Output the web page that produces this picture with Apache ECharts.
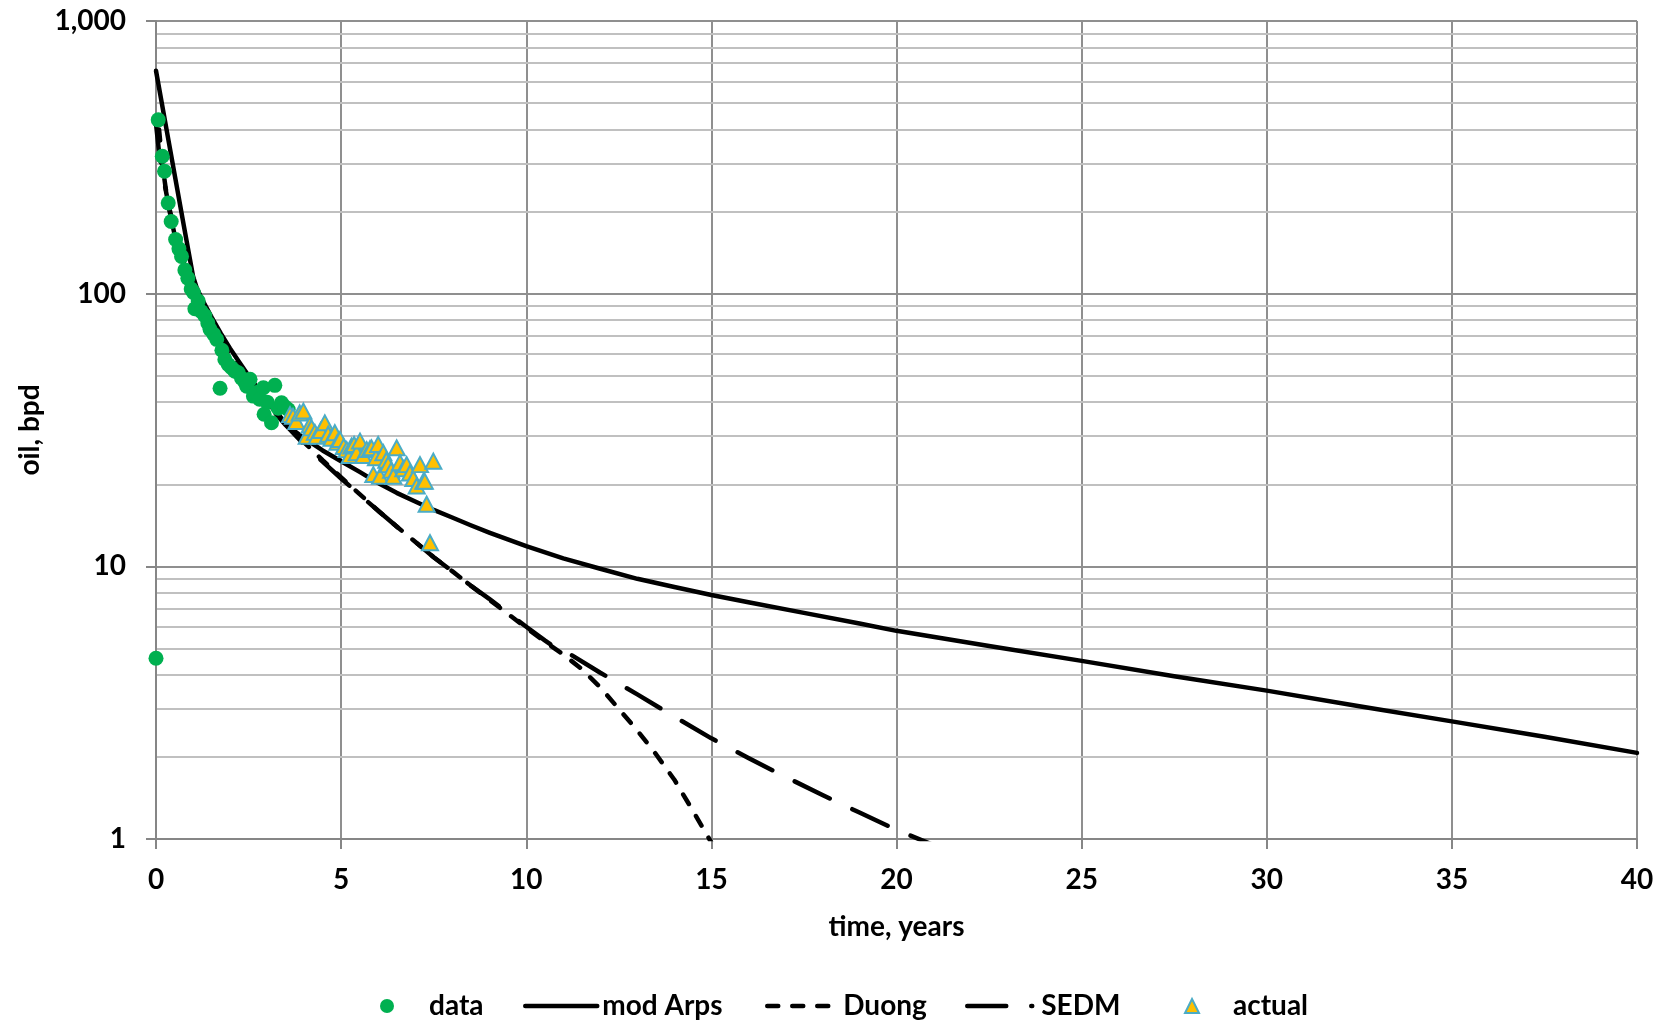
<!DOCTYPE html>
<html>
<head>
<meta charset="utf-8">
<title>oil decline</title>
<script src="https://cdn.jsdelivr.net/npm/echarts@6/dist/echarts.min.js"></script>
<style>
  html, body { margin: 0; padding: 0; background: #ffffff; }
  #chart { width: 1672px; height: 1023px; }
</style>
</head>
<body>
<div id="chart"></div>
<script>
// ---- axis ticks ----
const xTicks = [0, 5, 10, 15, 20, 25, 30, 35, 40];
const yTicks = [1, 10, 100, 1000];
const yMinorGrid = [2, 3, 4, 5, 6, 7, 8, 9, 20, 30, 40, 50, 60, 70, 80, 90, 200, 300, 400, 500, 600, 700, 800, 900];

// ---- series names ----
const seriesNames = ['data', 'mod Arps', 'Duong', 'SEDM', 'actual'];

// ---- measured production, [years, bpd] ----
const dataPoints = [
  [0.00, 4.6], [0.06, 434], [0.17, 319], [0.23, 281], [0.33, 215], [0.41, 184],
  [0.53, 158], [0.62, 146], [0.69, 137], [0.78, 122], [0.86, 114], [0.95, 104],
  [1.01, 101], [1.05, 88], [1.14, 94], [1.22, 86], [1.32, 83], [1.40, 78],
  [1.46, 74], [1.56, 71], [1.64, 68], [1.73, 45], [1.78, 62], [1.86, 57.4],
  [1.95, 55], [2.04, 53.5], [2.13, 52], [2.22, 51.3], [2.31, 49], [2.40, 47.4],
  [2.45, 45.8], [2.54, 48.5], [2.63, 42.1], [2.72, 43.4], [2.80, 41], [2.90, 45.2],
  [2.92, 36.1], [3.00, 40], [3.12, 33.6], [3.21, 46.1], [3.30, 38], [3.39, 39.8],
  [3.48, 38.5], [3.57, 37.6]
];

// ---- later actual production, [years, bpd] ----
const actualPoints = [
  [3.62, 36.0], [3.70, 35.5], [3.79, 34.0], [3.88, 36.5], [3.98, 37.1], [4.07, 30.0],
  [4.15, 33.0], [4.20, 32.2], [4.29, 31.0], [4.34, 30.0], [4.45, 31.5], [4.56, 33.6],
  [4.65, 30.5], [4.74, 29.5], [4.83, 30.9], [4.90, 28.5], [4.97, 29.2], [5.07, 27.5],
  [5.15, 26.8], [5.23, 25.5], [5.28, 27.6], [5.35, 28.0], [5.42, 26.1], [5.51, 28.8],
  [5.60, 25.5], [5.69, 26.8], [5.78, 27.0], [5.82, 27.2], [5.87, 21.7], [5.94, 25.0],
  [6.00, 28.0], [6.05, 21.4], [6.14, 26.1], [6.22, 24.5], [6.27, 23.6], [6.35, 22.5],
  [6.41, 21.4], [6.50, 27.2], [6.59, 24.0], [6.68, 22.8], [6.77, 23.6], [6.86, 22.0],
  [6.95, 21.0], [7.04, 19.7], [7.13, 23.6], [7.22, 20.5], [7.26, 20.5], [7.31, 16.9],
  [7.40, 12.2], [7.49, 24.3]
];

// ---- forecast curves, [years, bpd] ----
const modArpsCurve = [
  [0, 657], [0.25, 425], [0.5, 275], [0.75, 178], [1.0, 116], [1.1, 105], [1.25, 95],
  [1.5, 82], [1.75, 71.5], [2.0, 63], [2.25, 56], [2.5, 50], [2.75, 45], [3.0, 40.5],
  [3.25, 36.8], [3.5, 33.5], [3.75, 31.3], [4.0, 29.5], [4.5, 26.6], [5.0, 24.3],
  [5.5, 22.2], [6.0, 20.2], [6.5, 18.6], [7.0, 17.3], [7.5, 16.1], [8.0, 15.1],
  [8.5, 14.15], [9.0, 13.3], [9.5, 12.55], [10, 11.85], [11, 10.7], [12, 9.8],
  [13, 9.0], [14, 8.4], [15, 7.85], [16, 7.38], [17.5, 6.75], [19, 6.17], [20, 5.8],
  [22.5, 5.1], [25, 4.5], [27.5, 3.95], [30, 3.5], [32.5, 3.07], [35, 2.7],
  [37.5, 2.37], [40, 2.07]
];

const duongCurve = [
  [0.083, 400], [0.17, 300], [0.25, 250], [0.33, 212], [0.5, 165], [0.75, 127],
  [1.0, 103], [1.25, 88], [1.5, 76], [1.75, 67], [2.0, 59], [2.25, 53], [2.5, 48],
  [2.75, 43.8], [3.0, 40], [3.5, 33.5], [4.0, 28.5], [4.5, 24.5], [5.0, 21.2],
  [5.5, 18.4], [6.0, 16.0], [6.5, 14.0], [7.0, 12.3], [7.5, 10.8], [8.0, 9.6],
  [8.5, 8.5], [9.0, 7.55], [9.5, 6.7], [10, 5.95], [10.5, 5.3], [11, 4.75],
  [11.5, 4.2], [12, 3.6], [12.5, 3.0], [13, 2.5], [13.5, 2.05], [14, 1.65],
  [14.5, 1.27], [15, 0.97]
];

const sedmCurve = [
  [0, 420], [0.083, 330], [0.17, 280], [0.25, 245], [0.33, 215], [0.5, 170],
  [0.75, 130], [1.0, 105], [1.25, 89], [1.5, 77], [1.75, 67.5], [2.0, 59.5],
  [2.25, 53.3], [2.5, 48], [2.75, 43.5], [3.0, 39.5], [3.5, 33], [4.0, 28],
  [4.5, 24.2], [5.0, 21.0], [5.5, 18.3], [6.0, 16.0], [6.5, 14.0], [7.0, 12.3],
  [7.5, 10.8], [8.0, 9.6], [8.5, 8.5], [9.0, 7.6], [9.5, 6.75], [10, 6.0],
  [10.5, 5.35], [11, 4.8], [11.2, 4.75], [12, 4.07], [13, 3.39], [14, 2.81],
  [15, 2.34], [16, 1.98], [17, 1.69], [18, 1.45], [19, 1.25], [20, 1.08], [21, 0.95]
];

// ---- styling ----
const FONT = "Lato, 'Open Sans', sans-serif";
const textBold = { fontFamily: FONT, fontSize: 28, fontWeight: 'bold', color: '#000000', lineHeight: 28 };
const axisGrey = '#868686';
const majorGridGrey = '#8f8f8f';
const minorGridGrey = '#c0c0c0';
const LINE_W = 4.5;

function fmtThousands(v) {
  return Math.round(v).toLocaleString('en-US');
}

function legendFor(name, left, itemWidth, textPadLeft, itemStyle) {
  return {
    data: [itemStyle ? { name: name, itemStyle: itemStyle } : name],
    left: left,
    top: 992,
    orient: 'horizontal',
    itemWidth: itemWidth,
    itemHeight: 14,
    itemGap: 0,
    padding: 0,
    selectedMode: false,
    symbolKeepAspect: true,
    lineStyle: { width: LINE_W },
    textStyle: Object.assign({}, textBold, { padding: [0, 0, 0, textPadLeft] })
  };
}

// line legends show only the stroke, no marker
const hiddenSymbol = { opacity: 0 };

const chart = echarts.init(document.getElementById('chart'), null, { renderer: 'canvas' });

chart.setOption({
  animation: false,
  backgroundColor: '#ffffff',
  grid: { left: 156, right: 35, top: 21, bottom: 184, containLabel: false, outerBoundsMode: 'none' },
  legend: [
    legendFor(seriesNames[0], 380, 14, 30),
    legendFor(seriesNames[1], 523, 72, 0, hiddenSymbol),
    legendFor(seriesNames[2], 765, 62, 9, hiddenSymbol),
    legendFor(seriesNames[3], 965, 65, 4, hiddenSymbol),
    legendFor(seriesNames[4], 1184, 14, 29)
  ],
  xAxis: {
    type: 'value',
    min: xTicks[0],
    max: xTicks[xTicks.length - 1],
    interval: xTicks[1] - xTicks[0],
    name: 'time, years',
    nameLocation: 'middle',
    nameGap: 74,
    nameTextStyle: Object.assign({}, textBold),
    axisLine: { show: true, onZero: false, lineStyle: { color: axisGrey, width: 2 } },
    axisTick: { show: true, length: 10, lineStyle: { color: axisGrey, width: 2 } },
    axisLabel: Object.assign({ margin: 27 }, textBold),
    splitLine: { show: true, lineStyle: { color: majorGridGrey, width: 2 } }
  },
  yAxis: {
    type: 'log',
    logBase: 10,
    min: yTicks[0],
    max: yTicks[yTicks.length - 1],
    name: 'oil, bpd',
    nameLocation: 'middle',
    nameRotate: 90,
    nameGap: 112,
    nameTextStyle: Object.assign({}, textBold),
    axisLine: { show: true, lineStyle: { color: axisGrey, width: 2 } },
    axisTick: { show: true, length: 10, lineStyle: { color: axisGrey, width: 2 } },
    axisLabel: Object.assign({ margin: 30, formatter: fmtThousands }, textBold),
    splitLine: { show: true, lineStyle: { color: majorGridGrey, width: 2 } }
  },
  series: [
    {
      name: 'minor gridlines',
      type: 'line',
      data: [],
      silent: true,
      z: 0,
      markLine: {
        silent: true,
        z: 0,
        symbol: ['none', 'none'],
        label: { show: false },
        lineStyle: { color: minorGridGrey, width: 2, type: 'solid' },
        emphasis: { disabled: true },
        data: yMinorGrid.map(v => ({ yAxis: v }))
      }
    },
    {
      name: seriesNames[1],
      type: 'line',
      data: modArpsCurve,
      symbol: 'none',
      z: 2,
      itemStyle: { color: '#000000' },
      lineStyle: { color: '#000000', width: LINE_W, type: 'solid', cap: 'round', join: 'round' }
    },
    {
      name: seriesNames[2],
      type: 'line',
      data: duongCurve,
      symbol: 'none',
      z: 2,
      itemStyle: { color: '#000000' },
      lineStyle: { color: '#000000', width: LINE_W, type: [11, 14], cap: 'round', join: 'round' }
    },
    {
      name: seriesNames[3],
      type: 'line',
      data: sedmCurve,
      symbol: 'none',
      z: 2,
      itemStyle: { color: '#000000' },
      lineStyle: { color: '#000000', width: LINE_W, type: [39, 25], cap: 'round', join: 'round' }
    },
    {
      name: seriesNames[0],
      type: 'scatter',
      data: dataPoints,
      symbol: 'circle',
      symbolSize: 15,
      z: 3,
      itemStyle: { color: '#00B050', opacity: 1 }
    },
    {
      name: seriesNames[4],
      type: 'scatter',
      data: actualPoints,
      symbol: 'triangle',
      symbolSize: [16, 15],
      z: 4,
      itemStyle: { color: '#FFC000', borderColor: '#4BACC6', borderWidth: 2, opacity: 1 }
    }
  ]
});
</script>
</body>
</html>
